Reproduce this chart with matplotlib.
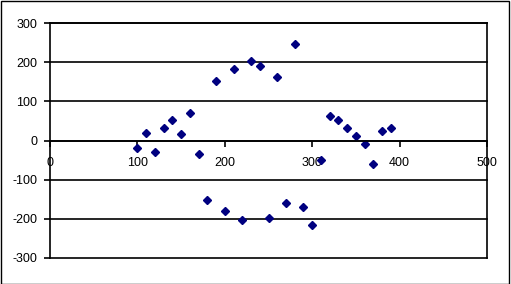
import matplotlib.pyplot as plt
from matplotlib.patches import Rectangle

plt.rcParams['font.family'] = ['Liberation Sans', 'DejaVu Sans']
plt.rcParams['axes.unicode_minus'] = False

x_vals = [100, 110, 120, 130, 140, 150, 160, 170, 180, 190,
          200, 210, 220, 230, 240, 250, 260, 270, 280, 290,
          300, 310, 320, 330, 340, 350, 360, 370, 380, 390]
y_vals = [-20, 20, -30, 32, 52, 16, 70, -34, -151, 152,
          -181, 183, -202, 202, 191, -197, 163, -159, 246, -171,
          -217, -50, 62, 52, 32, 11, -9, -61, 24, 32]

x_ticks = [0, 100, 200, 300, 400, 500]
y_ticks = [-300, -200, -100, 0, 100, 200, 300]

fig = plt.figure(figsize=(5.11, 2.84), dpi=100)
ax = fig.add_axes([50 / 511, 26 / 284, 437 / 511, 235 / 284])

# gridlines under the markers
for yv in y_ticks:
    ax.axhline(yv, color='black', lw=1.2, zorder=0.5, clip_on=False)

ax.plot(x_vals, y_vals, linestyle='none', marker='D', ms=4.0,
        color='#000080', mec='#000080', zorder=2)

ax.set_xlim(0, 500)
ax.set_ylim(-300, 300)
ax.set_xticks(x_ticks)
ax.set_yticks(y_ticks)

ax.spines['bottom'].set_position(('data', 0))
for s in ax.spines.values():
    s.set_linewidth(1.2)
    s.set_zorder(2.5)

ax.tick_params(axis='x', direction='out', length=4, width=1.2, pad=8,
               labelsize=9)
ax.tick_params(axis='y', direction='out', length=4, width=1.2, pad=5,
               labelsize=9)

# border round the whole picture
fig.patches.append(Rectangle((0.5 / 511, 0.5 / 284), 508.5 / 511, 282.5 / 284,
                             transform=fig.transFigure, fill=False,
                             edgecolor='black', lw=1.0))

fig.savefig('out.png', dpi=100)
